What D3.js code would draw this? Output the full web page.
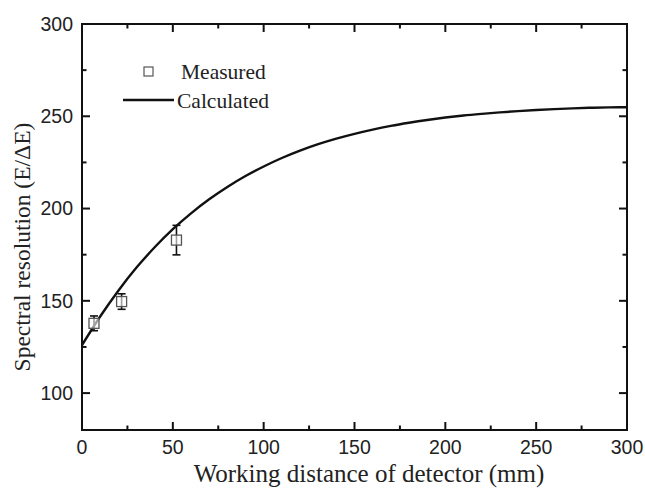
<!DOCTYPE html>
<html>
<head>
<meta charset="utf-8">
<script src="https://cdn.jsdelivr.net/npm/d3@7"></script>
<style>
  body { margin: 0; background: #fff; }
  svg { display: block; }
  .tick-label { font-family: "Liberation Sans", Arial, sans-serif; font-size: 19.5px; fill: #222; }
  .title { font-family: "Liberation Serif", "Times New Roman", serif; fill: #222; }
  .legend { font-family: "Liberation Serif", "Times New Roman", serif; font-size: 21.5px; fill: #222; }
</style>
</head>
<body>
<div id="chart"></div>
<script>
// Measured points (distance mm, E/dE, error)
const measuredX = [6.6, 21.8, 52.0];
const measuredY = [137.8, 149.6, 182.9];
const measuredErr = [4.0, 4.2, 8.0];

// Calculated curve
const calcX = [0, 10, 20, 30, 40, 50, 60, 70, 80, 90, 100, 110, 120, 130, 140, 150,
  160, 170, 180, 190, 200, 210, 220, 230, 240, 250, 260, 270, 280, 290, 300];
const calcY = [126, 141.5, 155.5, 168, 179, 188.8, 197.4, 205, 211.7, 217.6, 222.8, 227.4, 231.4, 234.9, 237.9, 240.5,
  242.8, 244.8, 246.5, 248.0, 249.3, 250.4, 251.3, 252.1, 252.8, 253.4, 253.9, 254.3, 254.6, 254.8, 254.9];

const xTicks = [0, 50, 100, 150, 200, 250, 300];
const yTicks = [100, 150, 200, 250, 300];
const xMinor = [25, 75, 125, 175, 225, 275];
const yMinor = [125, 175, 225, 275];

const W = 645, H = 489;
const margin = { top: 24, right: 18, bottom: 59, left: 82 };

const svg = d3.select("#chart").append("svg")
    .attr("width", W)
    .attr("height", H);

const x = d3.scaleLinear().domain([0, 300]).range([margin.left, W - margin.right]);
const y = d3.scaleLinear().domain([80, 300]).range([H - margin.bottom, margin.top]);

const x0 = x.range()[0], x1 = x.range()[1];
const y0 = y.range()[0], y1 = y.range()[1];

// Curve
const line = d3.line()
    .x((d, i) => x(calcX[i]))
    .y(d => y(d))
    .curve(d3.curveMonotoneX);

svg.append("path")
    .datum(calcY)
    .attr("d", line)
    .attr("fill", "none")
    .attr("stroke", "#111")
    .attr("stroke-width", 2.4);

// Error bars
const pts = measuredX.map((v, i) => ({ x: measuredX[i], y: measuredY[i], e: measuredErr[i] }));
const eb = svg.append("g").attr("stroke", "#111").attr("stroke-width", 1.6);
pts.forEach(d => {
    const cx = x(d.x);
    eb.append("line").attr("x1", cx).attr("x2", cx).attr("y1", y(d.y + d.e)).attr("y2", y(d.y - d.e));
    eb.append("line").attr("x1", cx - 4).attr("x2", cx + 4).attr("y1", y(d.y + d.e)).attr("y2", y(d.y + d.e));
    eb.append("line").attr("x1", cx - 4).attr("x2", cx + 4).attr("y1", y(d.y - d.e)).attr("y2", y(d.y - d.e));
});

// Square markers
svg.selectAll(".marker")
    .data(pts)
    .enter()
    .append("rect")
    .attr("class", "marker")
    .attr("x", d => x(d.x) - 5)
    .attr("y", d => y(d.y) - 5)
    .attr("width", 10)
    .attr("height", 10)
    .attr("fill", "#fff")
    .attr("fill-opacity", 0.6)
    .attr("stroke", "#555")
    .attr("stroke-width", 1.3);

// Frame
svg.append("rect")
    .attr("x", x0).attr("y", y1)
    .attr("width", x1 - x0).attr("height", y0 - y1)
    .attr("fill", "none")
    .attr("stroke", "#111")
    .attr("stroke-width", 2);

// Ticks (inward, mirrored)
const tk = svg.append("g").attr("stroke", "#111").attr("stroke-width", 2);
const major = 8, minor = 4.5;
xTicks.forEach(v => {
    tk.append("line").attr("x1", x(v)).attr("x2", x(v)).attr("y1", y0).attr("y2", y0 - major);
    tk.append("line").attr("x1", x(v)).attr("x2", x(v)).attr("y1", y1).attr("y2", y1 + major);
});
xMinor.forEach(v => {
    tk.append("line").attr("x1", x(v)).attr("x2", x(v)).attr("y1", y0).attr("y2", y0 - minor);
    tk.append("line").attr("x1", x(v)).attr("x2", x(v)).attr("y1", y1).attr("y2", y1 + minor);
});
yTicks.forEach(v => {
    tk.append("line").attr("x1", x0).attr("x2", x0 + major).attr("y1", y(v)).attr("y2", y(v));
    tk.append("line").attr("x1", x1).attr("x2", x1 - major).attr("y1", y(v)).attr("y2", y(v));
});
yMinor.forEach(v => {
    tk.append("line").attr("x1", x0).attr("x2", x0 + minor).attr("y1", y(v)).attr("y2", y(v));
    tk.append("line").attr("x1", x1).attr("x2", x1 - minor).attr("y1", y(v)).attr("y2", y(v));
});

// Tick labels
svg.selectAll(".xl")
    .data(xTicks)
    .enter()
    .append("text")
    .attr("class", "tick-label")
    .attr("x", d => x(d))
    .attr("y", y0 + 24)
    .attr("text-anchor", "middle")
    .text(d => d);

svg.selectAll(".yl")
    .data(yTicks)
    .enter()
    .append("text")
    .attr("class", "tick-label")
    .attr("x", x0 - 9)
    .attr("y", d => y(d))
    .attr("dy", "0.35em")
    .attr("text-anchor", "end")
    .text(d => d);

// Axis titles
svg.append("text")
    .attr("class", "title")
    .attr("x", 369)
    .attr("y", 482)
    .attr("font-size", 25)
    .attr("text-anchor", "middle")
    .text("Working distance of detector (mm)");

svg.append("text")
    .attr("class", "title")
    .attr("font-size", 23.5)
    .attr("transform", "translate(30,247) rotate(-90)")
    .attr("text-anchor", "middle")
    .text("Spectral resolution (E/\u0394E)");

// Legend
svg.append("rect")
    .attr("x", 144).attr("y", 67)
    .attr("width", 9).attr("height", 9)
    .attr("fill", "none")
    .attr("stroke", "#555")
    .attr("stroke-width", 1.2);
svg.append("text").attr("class", "legend").attr("x", 181).attr("y", 79).text("Measured");

svg.append("line")
    .attr("x1", 123).attr("x2", 174).attr("y1", 100).attr("y2", 100)
    .attr("stroke", "#111").attr("stroke-width", 2.4);
svg.append("text").attr("class", "legend").attr("x", 177).attr("y", 108).text("Calculated");
</script>
</body>
</html>
